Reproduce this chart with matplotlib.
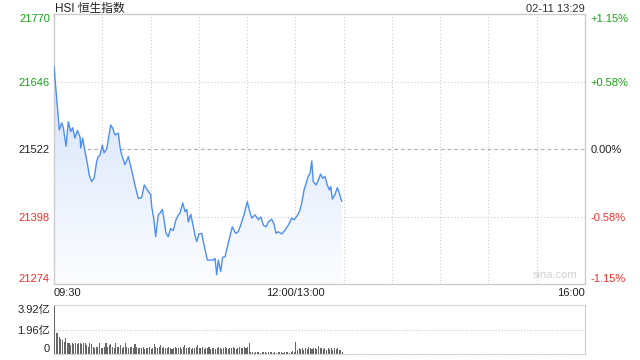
"""
HSI intraday minute chart with volume panel.
"""
import numpy as np
import matplotlib.pyplot as plt

# ---- data ----
# minutes after 09:30, lunch break removed (150 = 12:00/13:00, 330 = 16:00)
minutes = [0, 3.3, 4.8, 5.8, 7.5, 8.9, 10.4, 11.6, 13.0, 14.5, 16.2, 16.6, 17.8, 19.3, 20.7,
           21.9, 23.4, 25.0, 26.5, 27.5, 28.6, 30.0, 31.1, 32.8, 33.7, 35.2, 36.5, 37.9, 40.0,
           41.0, 42.1, 44.1, 46.2, 48.3, 50.3, 52.4, 54.5, 56.1, 58.6, 60.1, 60.7, 62.1, 63.2,
           64.8, 65.9, 67.3, 68.4, 69.6, 71.0, 72.5, 74.1, 75.8, 77.3, 78.3, 80.0, 81.4, 82.5,
           83.5, 85.0, 86.2, 87.6, 88.7, 90.1, 91.8, 93.2, 95.3, 97.4, 99.0, 100.1, 101.1, 102.1,
           103.6, 104.8, 106.3, 108.3, 110.8, 112.9, 114.5, 116.0, 118.1, 120.1, 121.4, 122.9,
           124.9, 127.0, 128.6, 130.1, 131.8, 133.2, 135.3, 136.7, 138.0, 139.4, 141.5, 143.6,
           145.6, 147.7, 149.3, 151.5, 152.9, 153.9, 155.4, 157.0, 158.0, 159.1, 160.2, 161.1,
           162.8, 164.3, 165.7, 167.0, 168.4, 169.8, 171.1, 172.0, 173.0, 174.6, 176.1, 177.3,
           178.8]
prices = [21674, 21557, 21570, 21561, 21527, 21572, 21554, 21561, 21542, 21556, 21544, 21524,
          21542, 21517, 21496, 21474, 21462, 21469, 21499, 21508, 21511, 21529, 21515, 21522,
          21539, 21566, 21560, 21548, 21551, 21526, 21511, 21493, 21508, 21483, 21456, 21431,
          21433, 21456, 21444, 21438, 21416, 21392, 21361, 21401, 21404, 21411, 21392, 21367,
          21361, 21376, 21372, 21392, 21401, 21404, 21423, 21407, 21411, 21388, 21402, 21385,
          21364, 21352, 21366, 21367, 21346, 21318, 21318, 21318, 21321, 21291, 21318, 21297,
          21323, 21324, 21349, 21379, 21367, 21370, 21382, 21401, 21425, 21410, 21395, 21401,
          21392, 21397, 21382, 21379, 21388, 21393, 21384, 21367, 21370, 21366, 21373, 21382,
          21395, 21392, 21401, 21410, 21422, 21447, 21462, 21472, 21477, 21500, 21462, 21456,
          21465, 21476, 21468, 21472, 21456, 21447, 21453, 21430, 21438, 21451, 21441, 21426]

# volume per minute, in 亿
volumes = [3.92,
           1.70, 1.65, 1.38, 1.18, 1.12, 0.99, 1.25, 0.86, 0.86, 0.73,
           0.91, 0.81, 0.86, 0.80, 0.91, 0.86, 0.81, 0.86, 0.91, 0.73,
           0.60, 0.86, 0.81, 0.60, 0.52, 0.60, 0.60, 0.91, 0.52, 0.47,
           0.60, 0.86, 0.60, 0.73, 0.81, 0.60, 0.52, 0.86, 0.60, 0.60,
           0.73, 0.52, 0.60, 0.91, 0.60, 0.52, 0.60, 0.60, 0.47, 0.81,
           0.60, 0.52, 0.52, 0.47, 0.60, 0.39, 0.47, 0.52, 0.60, 0.39,
           0.52, 0.81, 0.60, 0.52, 0.60, 0.73, 0.52, 0.60, 0.47, 0.52,
           0.60, 0.47, 0.39, 0.52, 0.60, 0.47, 0.52, 0.60, 0.39, 0.60,
           0.73, 0.52, 0.47, 0.60, 0.39, 0.52, 0.47, 0.60, 0.73, 0.47,
           0.52, 0.60, 0.39, 0.47, 0.52, 0.60, 0.39, 0.47, 0.52, 0.39,
           0.47, 0.60, 0.52, 0.39, 0.47, 0.60, 0.47, 0.39, 0.52, 0.47,
           0.60, 0.47, 0.39, 0.52, 0.60, 0.47, 0.52, 0.60, 0.52, 0.60,
           0.86,
           0.16, 0.20, 0.12, 0.16, 0.20, 0.16, 0.12, 0.16, 0.20, 0.16,
           0.12, 0.16, 0.16, 0.20, 0.12, 0.16, 0.12, 0.16, 0.20, 0.16,
           0.12, 0.16, 0.20, 0.16, 0.12, 0.16, 0.24, 0.20,
           1.00,
           0.35, 0.47, 0.39, 0.52, 0.35, 0.47, 0.39, 0.60, 0.47, 0.39,
           0.52, 0.47, 0.39, 0.65, 0.47, 0.52, 0.39, 0.47, 0.35, 0.52,
           0.39, 0.47, 0.35, 0.52, 0.39, 0.47, 0.35, 0.30, 0.20]

prev_close = 21522
price_ticks = [21274, 21398, 21522, 21646, 21770]
vol_ticks = [0, 1.96, 3.92]
vol_labels = ['0', '1.96亿', '3.92亿']
time_ticks = [0, 150, 330]
time_labels = ['09:30', '12:00/13:00', '16:00']
total_minutes = 330
title_txt = 'HSI 恒生指数'
stamp_txt = '02-11 13:29'

green = '#1b9e1b'
red = '#f0302a'
black = '#222222'
grid_c = '#cccccc'
fonts = ['Liberation Sans', 'Noto Sans CJK SC', 'DejaVu Sans']
plt.rcParams['font.family'] = fonts

fig = plt.figure(figsize=(6.4, 3.6), dpi=100)
ax = fig.add_axes([54/640, 76/360, 531/640, 270/360])
axv = fig.add_axes([54/640, 6/360, 531/640, 49/360])

# ---- price panel ----
ax.set_xlim(0, total_minutes)
ax.set_ylim(price_ticks[0], price_ticks[-1])

for k in range(1, 11):
    ax.axvline(k * 30, color=grid_c, lw=0.8, ls=(0, (1, 2)), zorder=0)
for p in price_ticks[1:-1]:
    if p == prev_close:
        ax.axhline(p, color='#aaaaaa', lw=0.8, ls=(0, (3, 3)), zorder=0)
    else:
        ax.axhline(p, color=grid_c, lw=0.8, ls=(0, (1, 2)), zorder=0)

# gradient fill under the line
fill = ax.fill_between(minutes, prices, price_ticks[0], color='none')
grad = np.linspace(0, 1, 256).reshape(-1, 1)
top_c = np.array([212, 226, 250]) / 255.0
bot_c = np.array([252, 253, 255]) / 255.0
img = top_c[None, None, :] * (1 - grad[:, :, None]) + bot_c[None, None, :] * grad[:, :, None]
im = ax.imshow(img, extent=[0, total_minutes, price_ticks[0], max(prices)],
               aspect='auto', origin='upper', zorder=1)
im.set_clip_path(fill.get_paths()[0], transform=ax.transData)
ax.set_ylim(price_ticks[0], price_ticks[-1])

ax.plot(minutes, prices, color='#4d8ff0', lw=1.0, zorder=3)

for s in ax.spines.values():
    s.set_color(grid_c)
    s.set_linewidth(1)

ax.set_yticks(price_ticks)
ax.set_yticklabels([str(p) for p in price_ticks])
for lab, p in zip(ax.get_yticklabels(), price_ticks):
    lab.set_color(green if p > prev_close else (red if p < prev_close else black))
    lab.set_fontsize(8)
ax.get_yticklabels()[0].set_va('bottom')
ax.get_yticklabels()[-1].set_va('top')

ax.set_xticks(time_ticks)
ax.set_xticklabels(time_labels, fontsize=8, color=black)
ax.get_xticklabels()[0].set_ha('left')
ax.get_xticklabels()[-1].set_ha('right')
ax.tick_params(length=0, pad=3)

axr = ax.twinx()
axr.set_ylim(price_ticks[0], price_ticks[-1])
axr.set_yticks(price_ticks)
pct = ['{:+.2f}%'.format((p - prev_close) / prev_close * 100) if p != prev_close else '0.00%'
       for p in price_ticks]
axr.set_yticklabels(pct)
for lab, p in zip(axr.get_yticklabels(), price_ticks):
    lab.set_color(green if p > prev_close else (red if p < prev_close else black))
    lab.set_fontsize(8)
axr.get_yticklabels()[0].set_va('bottom')
axr.get_yticklabels()[-1].set_va('top')
axr.tick_params(length=0, pad=4)
for s in axr.spines.values():
    s.set_visible(False)

ax.text(0.002, 1.0 + 2.0/270, title_txt, transform=ax.transAxes, ha='left', va='baseline',
        fontsize=8.5, color=black, family=fonts)
ax.text(1.0, 1.0 + 2.5/270, stamp_txt, transform=ax.transAxes, ha='right', va='baseline',
        fontsize=8, color='#333333')
ax.text(0.985, 0.015, 'sina.com', transform=ax.transAxes, ha='right', va='bottom',
        fontsize=8, color='#d0d0d0')

# ---- volume panel ----
axv.bar(np.arange(len(volumes)), volumes, width=0.65, align='edge', color='#666666', lw=0)
axv.set_xlim(0, total_minutes)
axv.set_ylim(0, vol_ticks[-1])
axv.axhline(vol_ticks[1], color=grid_c, lw=0.8, ls=(0, (1, 1.5)), zorder=0)
axv.set_xticks([])
axv.set_yticks(vol_ticks)
axv.set_yticklabels(vol_labels, fontsize=8, color=black)
axv.get_yticklabels()[0].set_va('bottom')
axv.get_yticklabels()[-1].set_va('top')
axv.tick_params(length=0, pad=3)
axv.spines['left'].set_visible(False)
axv.spines['right'].set_color(grid_c)
for side in ['top', 'bottom']:
    axv.spines[side].set_color(grid_c)
    axv.spines[side].set_linestyle((0, (1, 1.5)))

fig.savefig('out.png', dpi=100)
